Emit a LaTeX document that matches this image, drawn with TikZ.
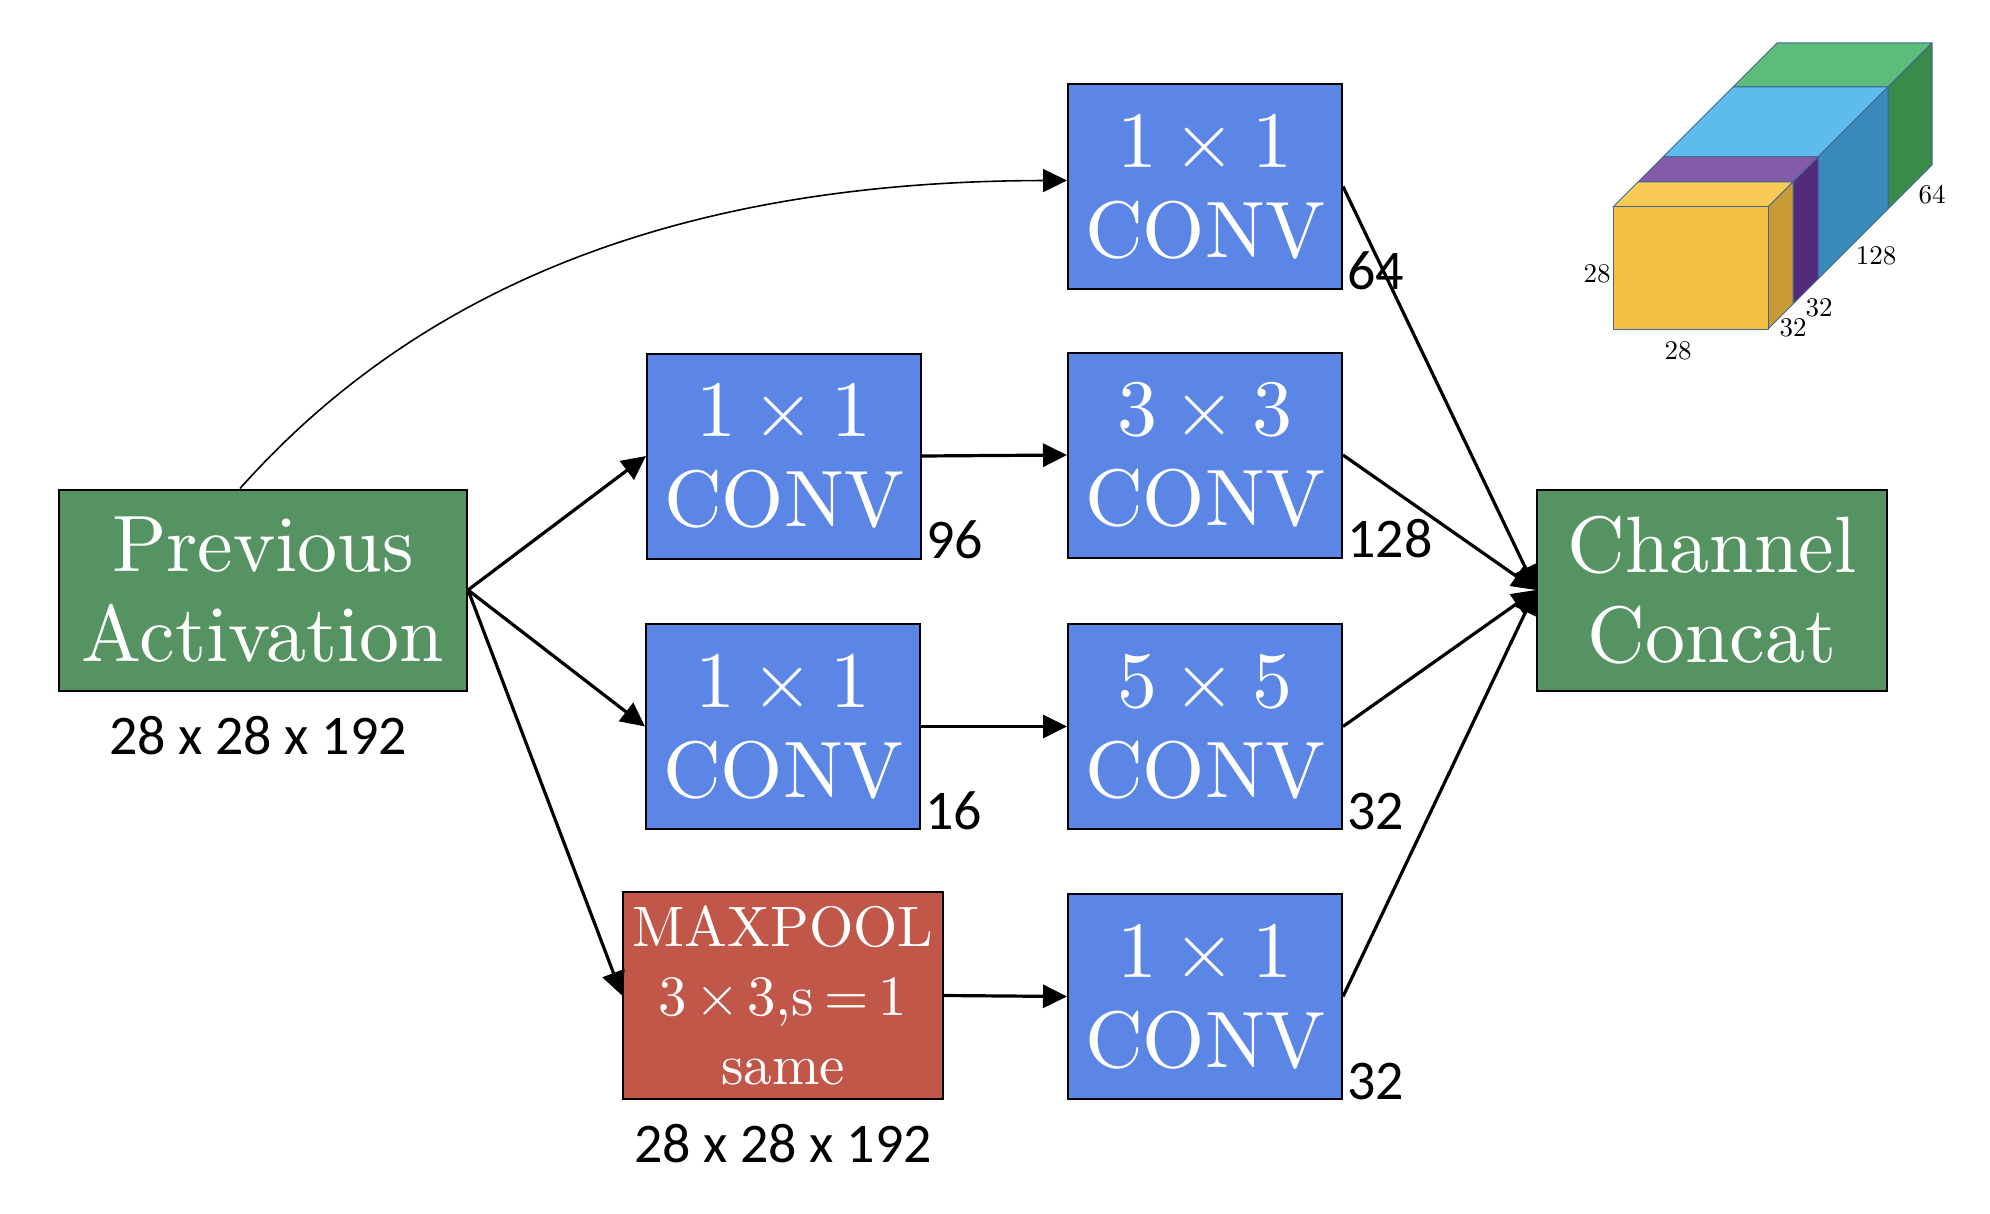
\documentclass[tikz,border=0pt]{standalone}
\usepackage{fontspec}
\setmainfont{lmroman10-regular.otf}
\newfontfamily\lblfont{Carlito}
\usetikzlibrary{arrows.meta}
\definecolor{convblue}{RGB}{91,134,229}
\definecolor{boxgreen}{RGB}{85,148,98}
\definecolor{poolred}{RGB}{192,87,73}
\definecolor{yfront}{RGB}{245,193,66}
\definecolor{ytop}{RGB}{247,203,85}
\definecolor{yside}{RGB}{200,156,52}
\definecolor{ptop}{RGB}{132,91,168}
\definecolor{pside}{RGB}{82,43,122}
\definecolor{btop}{RGB}{93,188,237}
\definecolor{bside}{RGB}{58,138,187}
\definecolor{gtop}{RGB}{94,188,123}
\definecolor{gside}{RGB}{58,138,73}
\definecolor{cubeedge}{RGB}{65,100,150}
\newcommand{\tms}{\hspace{0.2em}×\hspace{0.2em}}
\newcommand{\ptms}{\hspace{0.14em}×\hspace{0.14em}}
\begin{document}
\begin{tikzpicture}[x=0.5pt,y=-0.5pt,
  boxbase/.style={draw=black, line width=1pt, inner sep=0pt, text=white, align=center,
    font=\fontsize{40}{45}\selectfont},
  convbox/.style={boxbase, fill=convblue, minimum width=137pt, minimum height=102.5pt},
  greenbox/.style={boxbase, fill=boxgreen, minimum height=100.5pt},
  poolbox/.style={boxbase, fill=poolred, minimum width=160pt, minimum height=103.5pt,
    font=\fontsize{28.5}{34.5}\selectfont},
  numlbl/.style={font=\lblfont\fontsize{28}{30}\selectfont, inner sep=0pt, anchor=south west, xshift=2pt},
  dimlbl/.style={font=\lblfont\fontsize{28}{30}\selectfont, inner sep=0pt, anchor=base},
  arr/.style={line width=1.6pt, -{Triangle[length=12pt,width=11.5pt]}},
  thinarr/.style={line width=0.8pt, -{Triangle[length=12pt,width=11.5pt]}},
  cubelbl/.style={font=\fontsize{13.5}{15}\selectfont, inner sep=0pt},
  face/.style={draw=cubeedge, line width=0.5pt, line join=round}
]
\useasboundingbox (0,0) rectangle (1990,1214);

% main nodes
\node[greenbox, minimum width=204pt] (pa) at (263,590) {Previous\\Activation};
\node[convbox] (t1) at (1205,186.5) {1\tms1\\CONV};
\node[convbox] (c2) at (784,456) {1\tms1\\CONV};
\node[convbox] (c3) at (1205,455) {3\tms3\\CONV};
\node[convbox] (c4) at (783,726.5) {1\tms1\\CONV};
\node[convbox] (c5) at (1205,726.5) {5\tms5\\CONV};
\node[poolbox] (mp) at (783,995.5) {MAXPOOL\\3\ptms3,s\hspace{0.18em}=\hspace{0.18em}1\\same};
\node[convbox] (c6) at (1205,996.5) {1\tms1\\CONV};
\node[greenbox, minimum width=175pt] (cc) at (1712,590) {Channel\\Concat};

% labels
\node[dimlbl] (pal) at ([xshift=-2.5pt,yshift=-31.5pt]pa.south) {28 x 28 x 192};
\node[dimlbl] (mpl) at ([yshift=-31pt]mp.south) {28 x 28 x 192};
\node[numlbl] (n1) at (t1.south east) {64};
\node[numlbl] (n2) at (c2.south east) {96};
\node[numlbl] (n3) at (c3.south east) {128};
\node[numlbl] (n4) at (c4.south east) {16};
\node[numlbl] (n5) at (c5.south east) {32};
\node[numlbl] (n6) at (c6.south east) {32};

% connectors
\coordinate (pastart) at ([xshift=-11.5pt]pa.north);
\draw[thinarr] (pastart) .. controls (430,275) and (700,181) .. ([yshift=3pt]t1.west);
\draw[arr] (pa.east) -- (c2.west);
\draw[arr] (pa.east) -- (c4.west);
\draw[arr] (pa.east) -- (mp.west);
\draw[arr] (c2.east) -- (c3.west);
\draw[arr] (c4.east) -- (c5.west);
\draw[arr] (mp.east) -- (c6.west);
\draw[arr] (t1.east) -- (cc.west);
\draw[arr] (c3.east) -- (cc.west);
\draw[arr] (c5.east) -- (cc.west);
\draw[arr] (c6.east) -- (cc.west);

% output volume cube
% green segment
\fill[gtop] (1733,87) -- (1888,87) -- (1932,43) -- (1777,43) -- cycle;
\draw[face] (1733,87) -- (1888,87) -- (1932,43) -- (1777,43) -- cycle;
\fill[gside] (1888,87) -- (1932,43) -- (1932,165) -- (1888,209) -- cycle;
\draw[face] (1888,87) -- (1932,43) -- (1932,165) -- (1888,209) -- cycle;
% blue segment
\fill[btop] (1663,157) -- (1818,157) -- (1888,87) -- (1733,87) -- cycle;
\draw[face] (1663,157) -- (1818,157) -- (1888,87) -- (1733,87) -- cycle;
\fill[bside] (1818,157) -- (1888,87) -- (1888,209) -- (1818,279) -- cycle;
\draw[face] (1818,157) -- (1888,87) -- (1888,209) -- (1818,279) -- cycle;
% purple segment
\fill[ptop] (1638,182) -- (1793,182) -- (1818,157) -- (1663,157) -- cycle;
\draw[face] (1638,182) -- (1793,182) -- (1818,157) -- (1663,157) -- cycle;
\fill[pside] (1793,182) -- (1818,157) -- (1818,279) -- (1793,304) -- cycle;
\draw[face] (1793,182) -- (1818,157) -- (1818,279) -- (1793,304) -- cycle;
% yellow segment
\fill[ytop] (1613,207) -- (1768,207) -- (1793,182) -- (1638,182) -- cycle;
\draw[face] (1613,207) -- (1768,207) -- (1793,182) -- (1638,182) -- cycle;
\fill[yside] (1768,207) -- (1793,182) -- (1793,304) -- (1768,329) -- cycle;
\draw[face] (1768,207) -- (1793,182) -- (1793,304) -- (1768,329) -- cycle;
\fill[yfront] (1613,207) rectangle (1768,329);
\draw[face] (1613,207) rectangle (1768,329);

\node[cubelbl] (k1) at (1597,274) {28};
\node[cubelbl] (k2) at (1678,351) {28};
\node[cubelbl] (k3) at (1793,328) {32};
\node[cubelbl] (k4) at (1819,308) {32};
\node[cubelbl] (k5) at (1876,256) {128};
\node[cubelbl] (k6) at (1932,195) {64};
\end{tikzpicture}
\end{document}
